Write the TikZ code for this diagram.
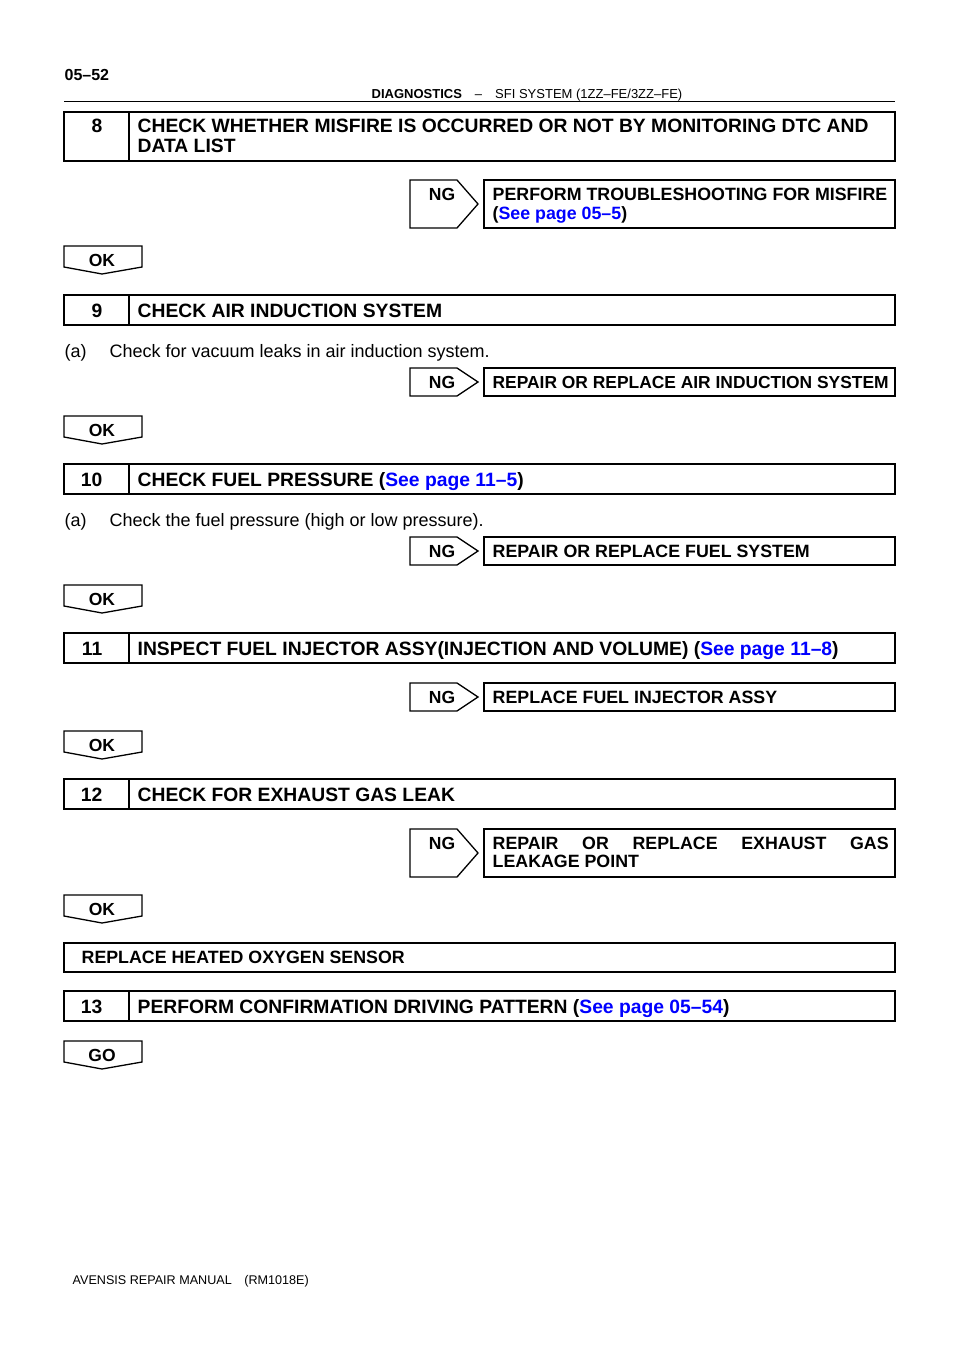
\documentclass[tikz,border=0pt]{standalone}
\usepackage{fontspec}
\setmainfont{Liberation Sans}
\usetikzlibrary{positioning}
\definecolor{linkblue}{RGB}{0,0,255}
\newcommand{\seepage}[1]{\textcolor{linkblue}{See page #1}}

\begin{document}
\begin{tikzpicture}[x=1pt, y=-1pt, line width=1.3pt,
  every node/.style={inner sep=0pt},
  title/.style={anchor=base west, font=\fontsize{19.3}{22}\selectfont\bfseries},
  stepno/.style={anchor=base east, font=\fontsize{19.3}{22}\selectfont\bfseries},
  result/.style={anchor=base west, font=\fontsize{17.8}{20}\selectfont\bfseries},
  plain/.style={anchor=base west, font=\fontsize{18}{21}\selectfont},
  tagtext/.style={anchor=base, font=\fontsize{17.5}{20}\selectfont\bfseries}]
\useasboundingbox (0,0) rectangle (960,1358);

% page head
\node[anchor=base west, font=\fontsize{16}{18}\selectfont\bfseries] (pageno) at (64,80) {05–52};
\node[anchor=base, font=\fontsize{13}{15}\selectfont] (head) at (527,98.5)
  {\textbf{DIAGNOSTICS}\quad–\quad SFI SYSTEM (1ZZ–FE/3ZZ–FE)};
\draw[line width=1.5pt] (64,101.5) -- (895,101.5);

% step boxes
\draw (64,112) rectangle (895,161) (129,112) -- (129,161);
\node[stepno] (n8) at (103,132.5) {8};
\node[title] (s8) at (137,132.5) {CHECK WHETHER MISFIRE IS OCCURRED OR NOT BY MONITORING DTC AND};
\node[title] (s8b) at (137,152.5) {DATA LIST};

\draw (64,295) rectangle (895,325) (129,295) -- (129,325);
\node[stepno] (n9) at (103,317) {9};
\node[title] (s9) at (137,317) {CHECK AIR INDUCTION SYSTEM};
\node[plain] (a9) at (64,357) {(a)};
\node[plain] (c9) at (109,357) {Check for vacuum leaks in air induction system.};

\draw (64,464) rectangle (895,494) (129,464) -- (129,494);
\node[stepno] (n10) at (103,486) {10};
\node[title] (s10) at (137,486) {CHECK FUEL PRESSURE (\seepage{11–5})};
\node[plain] (a10) at (64,526) {(a)};
\node[plain] (c10) at (109,526) {Check the fuel pressure (high or low pressure).};

\draw (64,633) rectangle (895,663) (129,633) -- (129,663);
\node[stepno] (n11) at (103,655) {11};
\node[title] (s11) at (137,655) {INSPECT FUEL INJECTOR ASSY(INJECTION AND VOLUME) (\seepage{11–8})};

\draw (64,779) rectangle (895,809) (129,779) -- (129,809);
\node[stepno] (n12) at (103,801) {12};
\node[title] (s12) at (137,801) {CHECK FOR EXHAUST GAS LEAK};

\draw (64,943) rectangle (895,972);
\node[result] (o2) at (81,963.5) {REPLACE HEATED OXYGEN SENSOR};

\draw (64,991) rectangle (895,1021) (129,991) -- (129,1021);
\node[stepno] (n13) at (103,1013) {13};
\node[title] (s13) at (137,1013) {PERFORM CONFIRMATION DRIVING PATTERN (\seepage{05–54})};

% NG tags and their result boxes
\foreach \t/\b in {180/228, 368/396, 537/565, 683/711, 829/877} {
  \draw (410,\t) -- (457,\t) -- (478,{(\t+\b)/2}) -- (457,\b) -- (410,\b) -- cycle;
  \draw (484,\t) rectangle (895,\b);
  \node[tagtext] (ng\t) at (442,\t+20.5) {NG};
}
\node[result] (r180) at (492,200.5) {PERFORM TROUBLESHOOTING FOR MISFIRE};
\node[result] (r180b) at (492,219) {(\seepage{05–5})};
\node[result, font=\fontsize{17.4}{20}\selectfont\bfseries] (r368) at (492,388.5) {REPAIR OR REPLACE AIR INDUCTION SYSTEM};
\node[result] (r537) at (492,557.5) {REPAIR OR REPLACE FUEL SYSTEM};
\node[result] (r683) at (492,703.5) {REPLACE FUEL INJECTOR ASSY};
\node[result] (r829) at (492,849.5) {\makebox[396pt][s]{REPAIR OR REPLACE EXHAUST GAS}};
\node[result] (r829b) at (492,867.5) {LEAKAGE POINT};

% OK / GO tags
\foreach \t/\lab in {246/OK, 416/OK, 585/OK, 731/OK, 895/OK, 1041/GO} {
  \draw (64,\t) -- (142,\t) -- (142,\t+21) -- (102,\t+28) -- (64,\t+21) -- cycle;
  \node[tagtext] (tag\t) at (102,\t+20) {\lab};
}

% page foot
\node[anchor=base west, font=\fontsize{12.6}{15}\selectfont] (foot) at (72,1284)
  {AVENSIS REPAIR MANUAL\quad(RM1018E)};
\end{tikzpicture}
\end{document}
